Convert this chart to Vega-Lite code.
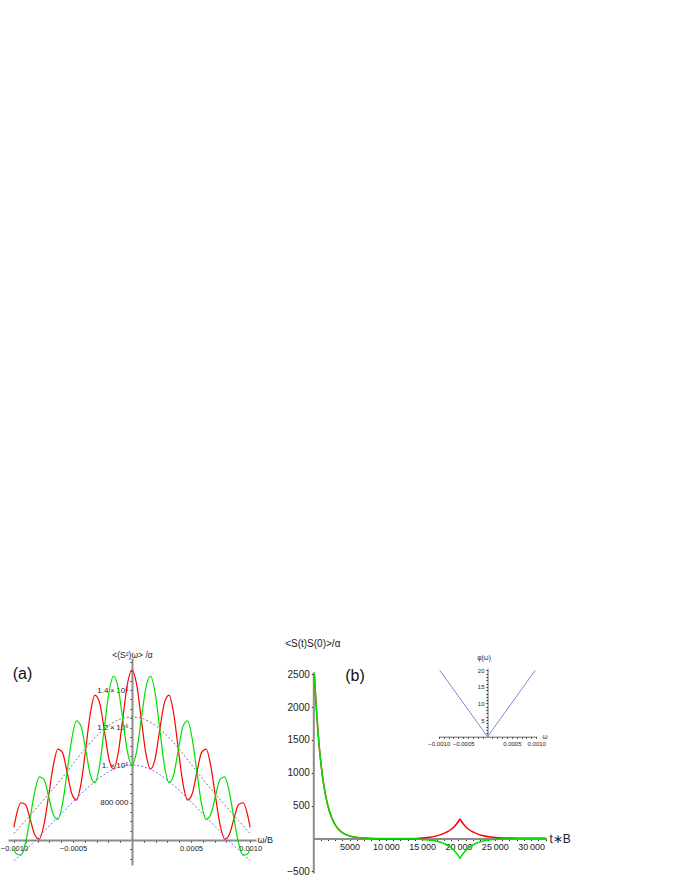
{
  "$schema": "https://vega.github.io/schema/vega-lite/v6.json",
  "width": 680,
  "height": 880,
  "autosize": "none",
  "padding": 0,
  "background": "white",
  "config": {
    "view": {"stroke": null},
    "axis": {
      "grid": false,
      "labelFont": "Liberation Sans",
      "titleFont": "Liberation Sans",
      "labelColor": "#222222",
      "titleColor": "#222222",
      "titleFontWeight": "normal",
      "tickColor": "#111111",
      "tickSize": 2,
      "tickWidth": 1,
      "domainColor": "#8c8c8c",
      "domainWidth": 2,
      "labelFlush": false,
      "labelOverlap": false,
      "labelBound": false,
      "labelPadding": 2
    }
  },
  "datasets": {
    "a": [
      {"w": -0.001, "red": 668000, "green": 556000},
      {"w": -0.00098125, "red": 726000, "green": 528000},
      {"w": -0.000942, "red": 799000, "green": 519000},
      {"w": -0.00090275, "red": 790100, "green": 582900},
      {"w": -0.0008635, "red": 714000, "green": 714000},
      {"w": -0.00082425, "red": 629700, "green": 855300},
      {"w": -0.000785, "red": 605000, "green": 937000},
      {"w": -0.00074575, "red": 681200, "green": 923800},
      {"w": -0.0007065, "red": 834000, "green": 834000},
      {"w": -0.00066725, "red": 994700, "green": 737300},
      {"w": -0.000628, "red": 1085000, "green": 710000},
      {"w": -0.00058875, "red": 1066500, "green": 793500},
      {"w": -0.0005495, "red": 962000, "green": 962000},
      {"w": -0.00051025, "red": 848000, "green": 1138000},
      {"w": -0.000471, "red": 813000, "green": 1236000},
      {"w": -0.00043175, "red": 900600, "green": 1207400},
      {"w": -0.0003925, "red": 1083000, "green": 1083000},
      {"w": -0.00035325, "red": 1272600, "green": 949400},
      {"w": -0.000314, "red": 1373000, "green": 905000},
      {"w": -0.00027475, "red": 1333300, "green": 996700},
      {"w": -0.0002355, "red": 1190000, "green": 1190000},
      {"w": -0.00019625, "red": 1035800, "green": 1382200},
      {"w": -0.000157, "red": 979000, "green": 1475000},
      {"w": -0.00011775, "red": 1060600, "green": 1413400},
      {"w": -0.0000785, "red": 1246000, "green": 1246000},
      {"w": -0.00003925, "red": 1430400, "green": 1072600},
      {"w": 0, "red": 1507000, "green": 1000000},
      {"w": 0.00003925, "red": 1430400, "green": 1072600},
      {"w": 0.0000785, "red": 1246000, "green": 1246000},
      {"w": 0.00011775, "red": 1060600, "green": 1413400},
      {"w": 0.000157, "red": 979000, "green": 1475000},
      {"w": 0.00019625, "red": 1035800, "green": 1382200},
      {"w": 0.0002355, "red": 1190000, "green": 1190000},
      {"w": 0.00027475, "red": 1333300, "green": 996700},
      {"w": 0.000314, "red": 1373000, "green": 905000},
      {"w": 0.00035325, "red": 1272600, "green": 949400},
      {"w": 0.0003925, "red": 1083000, "green": 1083000},
      {"w": 0.00043175, "red": 900600, "green": 1207400},
      {"w": 0.000471, "red": 813000, "green": 1236000},
      {"w": 0.00051025, "red": 848000, "green": 1138000},
      {"w": 0.0005495, "red": 962000, "green": 962000},
      {"w": 0.00058875, "red": 1066500, "green": 793500},
      {"w": 0.000628, "red": 1085000, "green": 710000},
      {"w": 0.00066725, "red": 994700, "green": 737300},
      {"w": 0.0007065, "red": 834000, "green": 834000},
      {"w": 0.00074575, "red": 681200, "green": 923800},
      {"w": 0.000785, "red": 605000, "green": 937000},
      {"w": 0.00082425, "red": 629700, "green": 855300},
      {"w": 0.0008635, "red": 714000, "green": 714000},
      {"w": 0.00090275, "red": 790100, "green": 582900},
      {"w": 0.000942, "red": 799000, "green": 519000},
      {"w": 0.00098125, "red": 726000, "green": 528000},
      {"w": 0.001, "red": 668000, "green": 556000}
    ],
    "env": [
      {"w": -0.001, "gray": 635000, "blue": 490000},
      {"w": -0.0009, "gray": 705000, "blue": 548000},
      {"w": -0.0008, "gray": 778000, "blue": 610000},
      {"w": -0.0007, "gray": 850000, "blue": 675000},
      {"w": -0.0006, "gray": 925000, "blue": 740000},
      {"w": -0.0005, "gray": 1005000, "blue": 803000},
      {"w": -0.0004, "gray": 1085000, "blue": 865000},
      {"w": -0.0003, "gray": 1155000, "blue": 920000},
      {"w": -0.0002, "gray": 1210000, "blue": 963000},
      {"w": -0.0001, "gray": 1245000, "blue": 990000},
      {"w": 0, "gray": 1257000, "blue": 1000000},
      {"w": 0.0001, "gray": 1245000, "blue": 990000},
      {"w": 0.0002, "gray": 1210000, "blue": 963000},
      {"w": 0.0003, "gray": 1155000, "blue": 920000},
      {"w": 0.0004, "gray": 1085000, "blue": 865000},
      {"w": 0.0005, "gray": 1005000, "blue": 803000},
      {"w": 0.0006, "gray": 925000, "blue": 740000},
      {"w": 0.0007, "gray": 850000, "blue": 675000},
      {"w": 0.0008, "gray": 778000, "blue": 610000},
      {"w": 0.0009, "gray": 705000, "blue": 548000},
      {"w": 0.001, "gray": 635000, "blue": 490000}
    ],
    "b": [
      {"t": 150, "red": 2500, "green": 2500},
      {"t": 300, "red": 2194, "green": 2194},
      {"t": 500, "red": 1844, "green": 1844},
      {"t": 750, "red": 1484, "green": 1484},
      {"t": 1000, "red": 1194, "green": 1194},
      {"t": 1250, "red": 960, "green": 960},
      {"t": 1500, "red": 773, "green": 773},
      {"t": 2000, "red": 501, "green": 501},
      {"t": 2500, "red": 324, "green": 324},
      {"t": 3000, "red": 210, "green": 210},
      {"t": 3500, "red": 136, "green": 136},
      {"t": 4000, "red": 88, "green": 88},
      {"t": 5000, "red": 37, "green": 37},
      {"t": 6000, "red": 15, "green": 15},
      {"t": 7000, "red": 4, "green": 4},
      {"t": 8000, "red": -3, "green": -1},
      {"t": 10000, "red": -6, "green": -2},
      {"t": 12000, "red": -6, "green": -3},
      {"t": 14000, "red": -5, "green": -4},
      {"t": 15000, "red": 6, "green": -16},
      {"t": 16000, "red": 17, "green": -25},
      {"t": 17000, "red": 38, "green": -43},
      {"t": 18000, "red": 75, "green": -78},
      {"t": 18500, "red": 102, "green": -105},
      {"t": 19000, "red": 139, "green": -144},
      {"t": 19500, "red": 190, "green": -196},
      {"t": 19800, "red": 230, "green": -238},
      {"t": 20000, "red": 260, "green": -269},
      {"t": 20200, "red": 295, "green": -305},
      {"t": 20400, "red": 260, "green": -269},
      {"t": 20600, "red": 230, "green": -238},
      {"t": 20900, "red": 190, "green": -196},
      {"t": 21400, "red": 139, "green": -144},
      {"t": 21900, "red": 102, "green": -105},
      {"t": 22400, "red": 75, "green": -78},
      {"t": 23400, "red": 40, "green": -41},
      {"t": 24400, "red": 21, "green": -22},
      {"t": 25400, "red": 11, "green": -12},
      {"t": 27200, "red": 4, "green": -5},
      {"t": 29000, "red": 1, "green": -3},
      {"t": 32000, "red": 0, "green": -2}
    ],
    "phi": [
      {"w": -0.00098, "phi": 20},
      {"w": 0, "phi": 0},
      {"w": 0.00098, "phi": 20}
    ]
  },
  "layer": [
    {
      "layer": [
        {
          "data": {"name": "a"},
          "mark": {"type": "line", "color": "#ff0000", "strokeWidth": 1.2, "interpolate": "monotone"},
          "encoding": {
            "x": {"field": "w", "type": "quantitative",
              "scale": {"domain": [-0.00105, 0.00105], "range": [8, 256]},
              "axis": {
                "orient": "bottom", "offset": -40, "labelOverlap": false, "labelFlush": false,
                "values": [-0.001, -0.0009, -0.0008, -0.0007, -0.0006, -0.0005, -0.0004, -0.0003, -0.0002, -0.0001, 0.0001, 0.0002, 0.0003, 0.0004, 0.0005, 0.0006, 0.0007, 0.0008, 0.0009, 0.001],
                "labelExpr": "abs(abs(datum.value) - 0.0005) < 0.000001 || abs(abs(datum.value) - 0.001) < 0.000001 ? format(datum.value, '.4f') : ''",
                "labelFontSize": 7.5,
                "title": "ω/B", "titleFontSize": 9, "titleX": 257, "titleY": -1,
                "titleAlign": "left", "titleBaseline": "middle", "titleAngle": 0
              }
            },
            "y": {"field": "red", "type": "quantitative",
              "scale": {"domain": [467000, 1571000], "range": [865, 658], "zero": false},
              "axis": {
                "orient": "left", "offset": -132, "labelOverlap": false,
                "values": [500000, 550000, 650000, 700000, 750000, 800000, 850000, 900000, 950000, 1000000, 1050000, 1100000, 1150000, 1200000, 1250000, 1300000, 1350000, 1400000, 1450000, 1500000, 1550000],
                "labelExpr": "datum.value == 800000 ? '800\u2009000' : datum.value == 1000000 ? '1.\u2009×\u200910⁶' : datum.value == 1200000 ? '1.2\u2009×\u200910⁶' : datum.value == 1400000 ? '1.4\u2009×\u200910⁶' : ''",
                "labelFontSize": 8,
                "title": "<(S²)ω> /α", "titleFontSize": 8.5, "titleX": 0, "titleY": 654,
                "titleAlign": "center", "titleBaseline": "middle", "titleAngle": 0
              }
            }
          }
        },
        {
          "data": {"name": "a"},
          "mark": {"type": "line", "color": "#00e000", "strokeWidth": 1.2, "interpolate": "monotone"},
          "encoding": {
            "x": {"field": "w", "type": "quantitative", "scale": {"domain": [-0.00105, 0.00105], "range": [8, 256]},
              "axis": {
                "orient": "bottom", "offset": -40, "labelOverlap": false, "labelFlush": false,
                "values": [-0.001, -0.0009, -0.0008, -0.0007, -0.0006, -0.0005, -0.0004, -0.0003, -0.0002, -0.0001, 0.0001, 0.0002, 0.0003, 0.0004, 0.0005, 0.0006, 0.0007, 0.0008, 0.0009, 0.001],
                "labelExpr": "abs(abs(datum.value) - 0.0005) < 0.000001 || abs(abs(datum.value) - 0.001) < 0.000001 ? format(datum.value, '.4f') : ''",
                "labelFontSize": 7.5,
                "title": "ω/B", "titleFontSize": 9, "titleX": 257, "titleY": -1,
                "titleAlign": "left", "titleBaseline": "middle", "titleAngle": 0
              }
            },
            "y": {"field": "green", "type": "quantitative", "scale": {"domain": [467000, 1571000], "range": [865, 658], "zero": false},
              "axis": {
                "orient": "left", "offset": -132, "labelOverlap": false,
                "values": [500000, 550000, 650000, 700000, 750000, 800000, 850000, 900000, 950000, 1000000, 1050000, 1100000, 1150000, 1200000, 1250000, 1300000, 1350000, 1400000, 1450000, 1500000, 1550000],
                "labelExpr": "datum.value == 800000 ? '800\u2009000' : datum.value == 1000000 ? '1.\u2009×\u200910⁶' : datum.value == 1200000 ? '1.2\u2009×\u200910⁶' : datum.value == 1400000 ? '1.4\u2009×\u200910⁶' : ''",
                "labelFontSize": 8,
                "title": "<(S²)ω> /α", "titleFontSize": 8.5, "titleX": 0, "titleY": 654,
                "titleAlign": "center", "titleBaseline": "middle", "titleAngle": 0
              }
            }
          }
        },
        {
          "data": {"name": "env"},
          "mark": {"type": "line", "color": "#777777", "strokeWidth": 1, "strokeDash": [2, 2], "interpolate": "monotone"},
          "encoding": {
            "x": {"field": "w", "type": "quantitative", "scale": {"domain": [-0.00105, 0.00105], "range": [8, 256]},
              "axis": {
                "orient": "bottom", "offset": -40, "labelOverlap": false, "labelFlush": false,
                "values": [-0.001, -0.0009, -0.0008, -0.0007, -0.0006, -0.0005, -0.0004, -0.0003, -0.0002, -0.0001, 0.0001, 0.0002, 0.0003, 0.0004, 0.0005, 0.0006, 0.0007, 0.0008, 0.0009, 0.001],
                "labelExpr": "abs(abs(datum.value) - 0.0005) < 0.000001 || abs(abs(datum.value) - 0.001) < 0.000001 ? format(datum.value, '.4f') : ''",
                "labelFontSize": 7.5,
                "title": "ω/B", "titleFontSize": 9, "titleX": 257, "titleY": -1,
                "titleAlign": "left", "titleBaseline": "middle", "titleAngle": 0
              }
            },
            "y": {"field": "gray", "type": "quantitative", "scale": {"domain": [467000, 1571000], "range": [865, 658], "zero": false},
              "axis": {
                "orient": "left", "offset": -132, "labelOverlap": false,
                "values": [500000, 550000, 650000, 700000, 750000, 800000, 850000, 900000, 950000, 1000000, 1050000, 1100000, 1150000, 1200000, 1250000, 1300000, 1350000, 1400000, 1450000, 1500000, 1550000],
                "labelExpr": "datum.value == 800000 ? '800\u2009000' : datum.value == 1000000 ? '1.\u2009×\u200910⁶' : datum.value == 1200000 ? '1.2\u2009×\u200910⁶' : datum.value == 1400000 ? '1.4\u2009×\u200910⁶' : ''",
                "labelFontSize": 8,
                "title": "<(S²)ω> /α", "titleFontSize": 8.5, "titleX": 0, "titleY": 654,
                "titleAlign": "center", "titleBaseline": "middle", "titleAngle": 0
              }
            }
          }
        },
        {
          "data": {"name": "env"},
          "mark": {"type": "line", "color": "#6b6bff", "strokeWidth": 1, "strokeDash": [2, 2], "interpolate": "monotone"},
          "encoding": {
            "x": {"field": "w", "type": "quantitative", "scale": {"domain": [-0.00105, 0.00105], "range": [8, 256]},
              "axis": {
                "orient": "bottom", "offset": -40, "labelOverlap": false, "labelFlush": false,
                "values": [-0.001, -0.0009, -0.0008, -0.0007, -0.0006, -0.0005, -0.0004, -0.0003, -0.0002, -0.0001, 0.0001, 0.0002, 0.0003, 0.0004, 0.0005, 0.0006, 0.0007, 0.0008, 0.0009, 0.001],
                "labelExpr": "abs(abs(datum.value) - 0.0005) < 0.000001 || abs(abs(datum.value) - 0.001) < 0.000001 ? format(datum.value, '.4f') : ''",
                "labelFontSize": 7.5,
                "title": "ω/B", "titleFontSize": 9, "titleX": 257, "titleY": -1,
                "titleAlign": "left", "titleBaseline": "middle", "titleAngle": 0
              }
            },
            "y": {"field": "blue", "type": "quantitative", "scale": {"domain": [467000, 1571000], "range": [865, 658], "zero": false},
              "axis": {
                "orient": "left", "offset": -132, "labelOverlap": false,
                "values": [500000, 550000, 650000, 700000, 750000, 800000, 850000, 900000, 950000, 1000000, 1050000, 1100000, 1150000, 1200000, 1250000, 1300000, 1350000, 1400000, 1450000, 1500000, 1550000],
                "labelExpr": "datum.value == 800000 ? '800\u2009000' : datum.value == 1000000 ? '1.\u2009×\u200910⁶' : datum.value == 1200000 ? '1.2\u2009×\u200910⁶' : datum.value == 1400000 ? '1.4\u2009×\u200910⁶' : ''",
                "labelFontSize": 8,
                "title": "<(S²)ω> /α", "titleFontSize": 8.5, "titleX": 0, "titleY": 654,
                "titleAlign": "center", "titleBaseline": "middle", "titleAngle": 0
              }
            }
          }
        },
        {
          "data": {"values": [{"label": "(a)", "w": -0.000927, "S": 1485000}]},
          "mark": {"type": "text", "font": "Liberation Sans", "fontSize": 16, "color": "#111111", "align": "center", "baseline": "middle"},
          "encoding": {
            "text": {"field": "label"},
            "x": {"field": "w", "type": "quantitative", "scale": {"domain": [-0.00105, 0.00105], "range": [8, 256]},
              "axis": {
                "orient": "bottom", "offset": -40, "labelOverlap": false, "labelFlush": false,
                "values": [-0.001, -0.0009, -0.0008, -0.0007, -0.0006, -0.0005, -0.0004, -0.0003, -0.0002, -0.0001, 0.0001, 0.0002, 0.0003, 0.0004, 0.0005, 0.0006, 0.0007, 0.0008, 0.0009, 0.001],
                "labelExpr": "abs(abs(datum.value) - 0.0005) < 0.000001 || abs(abs(datum.value) - 0.001) < 0.000001 ? format(datum.value, '.4f') : ''",
                "labelFontSize": 7.5,
                "title": "ω/B", "titleFontSize": 9, "titleX": 257, "titleY": -1,
                "titleAlign": "left", "titleBaseline": "middle", "titleAngle": 0
              }
            },
            "y": {"field": "S", "type": "quantitative", "scale": {"domain": [467000, 1571000], "range": [865, 658], "zero": false},
              "axis": {
                "orient": "left", "offset": -132, "labelOverlap": false,
                "values": [500000, 550000, 650000, 700000, 750000, 800000, 850000, 900000, 950000, 1000000, 1050000, 1100000, 1150000, 1200000, 1250000, 1300000, 1350000, 1400000, 1450000, 1500000, 1550000],
                "labelExpr": "datum.value == 800000 ? '800\u2009000' : datum.value == 1000000 ? '1.\u2009×\u200910⁶' : datum.value == 1200000 ? '1.2\u2009×\u200910⁶' : datum.value == 1400000 ? '1.4\u2009×\u200910⁶' : ''",
                "labelFontSize": 8,
                "title": "<(S²)ω> /α", "titleFontSize": 8.5, "titleX": 0, "titleY": 654,
                "titleAlign": "center", "titleBaseline": "middle", "titleAngle": 0
              }
            }
          }
        }
      ]
    },
    {
      "layer": [
        {
          "data": {"name": "b"},
          "mark": {"type": "line", "color": "#ff0000", "strokeWidth": 1.5, "interpolate": "monotone"},
          "encoding": {
            "x": {"field": "t", "type": "quantitative",
              "scale": {"domain": [0, 32150], "range": [313.3, 546.7]},
              "axis": {
                "orient": "bottom", "offset": -41.6, "labelOverlap": false, "labelFlush": false,
                "values": [1000, 2000, 3000, 4000, 5000, 6000, 7000, 8000, 9000, 10000, 11000, 12000, 13000, 14000, 15000, 16000, 17000, 18000, 19000, 20000, 21000, 22000, 23000, 24000, 25000, 26000, 27000, 28000, 29000, 30000, 31000, 32000],
                "labelExpr": "datum.value == 5000 ? '5000' : datum.value % 5000 == 0 ? (datum.value / 1000) + '\u2009000' : ''",
                "labelFontSize": 9,
                "title": "t∗B", "titleFontSize": 12, "titleX": 549, "titleY": 0,
                "titleAlign": "left", "titleBaseline": "middle", "titleAngle": 0
              }
            },
            "y": {"field": "red", "type": "quantitative",
              "scale": {"domain": [-528, 2540], "range": [873, 671.7], "zero": false},
              "axis": {
                "orient": "left", "offset": -313.3, "labelOverlap": false,
                "values": [-500, 500, 1000, 1500, 2000, 2500],
                "labelExpr": "format(datum.value, 'd')",
                "labelFontSize": 10,
                "title": "<S(t)S(0)>/α", "titleFontSize": 10, "titleX": -1, "titleY": 643,
                "titleAlign": "center", "titleBaseline": "middle", "titleAngle": 0
              }
            }
          }
        },
        {
          "data": {"name": "b"},
          "mark": {"type": "line", "color": "#00e000", "strokeWidth": 1.5, "interpolate": "monotone"},
          "encoding": {
            "x": {"field": "t", "type": "quantitative", "scale": {"domain": [0, 32150], "range": [313.3, 546.7]},
              "axis": {
                "orient": "bottom", "offset": -41.6, "labelOverlap": false, "labelFlush": false,
                "values": [1000, 2000, 3000, 4000, 5000, 6000, 7000, 8000, 9000, 10000, 11000, 12000, 13000, 14000, 15000, 16000, 17000, 18000, 19000, 20000, 21000, 22000, 23000, 24000, 25000, 26000, 27000, 28000, 29000, 30000, 31000, 32000],
                "labelExpr": "datum.value == 5000 ? '5000' : datum.value % 5000 == 0 ? (datum.value / 1000) + '\u2009000' : ''",
                "labelFontSize": 9,
                "title": "t∗B", "titleFontSize": 12, "titleX": 549, "titleY": 0,
                "titleAlign": "left", "titleBaseline": "middle", "titleAngle": 0
              }
            },
            "y": {"field": "green", "type": "quantitative", "scale": {"domain": [-528, 2540], "range": [873, 671.7], "zero": false},
              "axis": {
                "orient": "left", "offset": -313.3, "labelOverlap": false,
                "values": [-500, 500, 1000, 1500, 2000, 2500],
                "labelExpr": "format(datum.value, 'd')",
                "labelFontSize": 10,
                "title": "<S(t)S(0)>/α", "titleFontSize": 10, "titleX": -1, "titleY": 643,
                "titleAlign": "center", "titleBaseline": "middle", "titleAngle": 0
              }
            }
          }
        },
        {
          "data": {"values": [{"label": "(b)", "t": 5744, "C": 2476}]},
          "mark": {"type": "text", "font": "Liberation Sans", "fontSize": 16, "color": "#111111", "align": "center", "baseline": "middle"},
          "encoding": {
            "text": {"field": "label"},
            "x": {"field": "t", "type": "quantitative", "scale": {"domain": [0, 32150], "range": [313.3, 546.7]},
              "axis": {
                "orient": "bottom", "offset": -41.6, "labelOverlap": false, "labelFlush": false,
                "values": [1000, 2000, 3000, 4000, 5000, 6000, 7000, 8000, 9000, 10000, 11000, 12000, 13000, 14000, 15000, 16000, 17000, 18000, 19000, 20000, 21000, 22000, 23000, 24000, 25000, 26000, 27000, 28000, 29000, 30000, 31000, 32000],
                "labelExpr": "datum.value == 5000 ? '5000' : datum.value % 5000 == 0 ? (datum.value / 1000) + '\u2009000' : ''",
                "labelFontSize": 9,
                "title": "t∗B", "titleFontSize": 12, "titleX": 549, "titleY": 0,
                "titleAlign": "left", "titleBaseline": "middle", "titleAngle": 0
              }
            },
            "y": {"field": "C", "type": "quantitative", "scale": {"domain": [-528, 2540], "range": [873, 671.7], "zero": false},
              "axis": {
                "orient": "left", "offset": -313.3, "labelOverlap": false,
                "values": [-500, 500, 1000, 1500, 2000, 2500],
                "labelExpr": "format(datum.value, 'd')",
                "labelFontSize": 10,
                "title": "<S(t)S(0)>/α", "titleFontSize": 10, "titleX": -1, "titleY": 643,
                "titleAlign": "center", "titleBaseline": "middle", "titleAngle": 0
              }
            }
          }
        }
      ]
    },
    {
      "layer": [
        {
          "data": {"name": "phi"},
          "mark": {"type": "line", "color": "#8585d0", "strokeWidth": 1},
          "encoding": {
            "x": {"field": "w", "type": "quantitative",
              "scale": {"domain": [-0.00101, 0.00101], "range": [438.3, 536.7]},
              "axis": {
                "orient": "bottom", "offset": -143.3, "labelOverlap": false, "labelFlush": false,
                "values": [-0.001, -0.0009, -0.0008, -0.0007, -0.0006, -0.0005, -0.0004, -0.0003, -0.0002, -0.0001, 0.0001, 0.0002, 0.0003, 0.0004, 0.0005, 0.0006, 0.0007, 0.0008, 0.0009, 0.001],
                "labelExpr": "abs(abs(datum.value) - 0.0005) < 0.000001 || abs(abs(datum.value) - 0.001) < 0.000001 ? format(datum.value, '.4f') : ''",
                "labelFontSize": 6, "domainWidth": 1, "domainColor": "#666666", "tickSize": 1.5,
                "title": "ω", "titleFontSize": 6.5, "titleX": 542, "titleY": 0,
                "titleAlign": "left", "titleBaseline": "middle", "titleAngle": 0
              }
            },
            "y": {"field": "phi", "type": "quantitative",
              "scale": {"domain": [0, 20.6], "range": [736.7, 668.3]},
              "axis": {
                "orient": "left", "offset": -487.5, "labelOverlap": false,
                "values": [1, 2, 3, 4, 5, 6, 7, 8, 9, 10, 11, 12, 13, 14, 15, 16, 17, 18, 19, 20],
                "labelExpr": "datum.value % 5 == 0 ? format(datum.value, 'd') : ''",
                "labelFontSize": 6, "domainWidth": 1, "domainColor": "#666666", "tickSize": 1.5,
                "title": "φ(ω)", "titleFontSize": 6.5, "titleX": -4, "titleY": 657,
                "titleAlign": "center", "titleBaseline": "middle", "titleAngle": 0
              }
            }
          }
        }
      ]
    }
  ],
  "resolve": {
    "scale": {"x": "independent", "y": "independent"},
    "axis": {"x": "independent", "y": "independent"}
  }
}
